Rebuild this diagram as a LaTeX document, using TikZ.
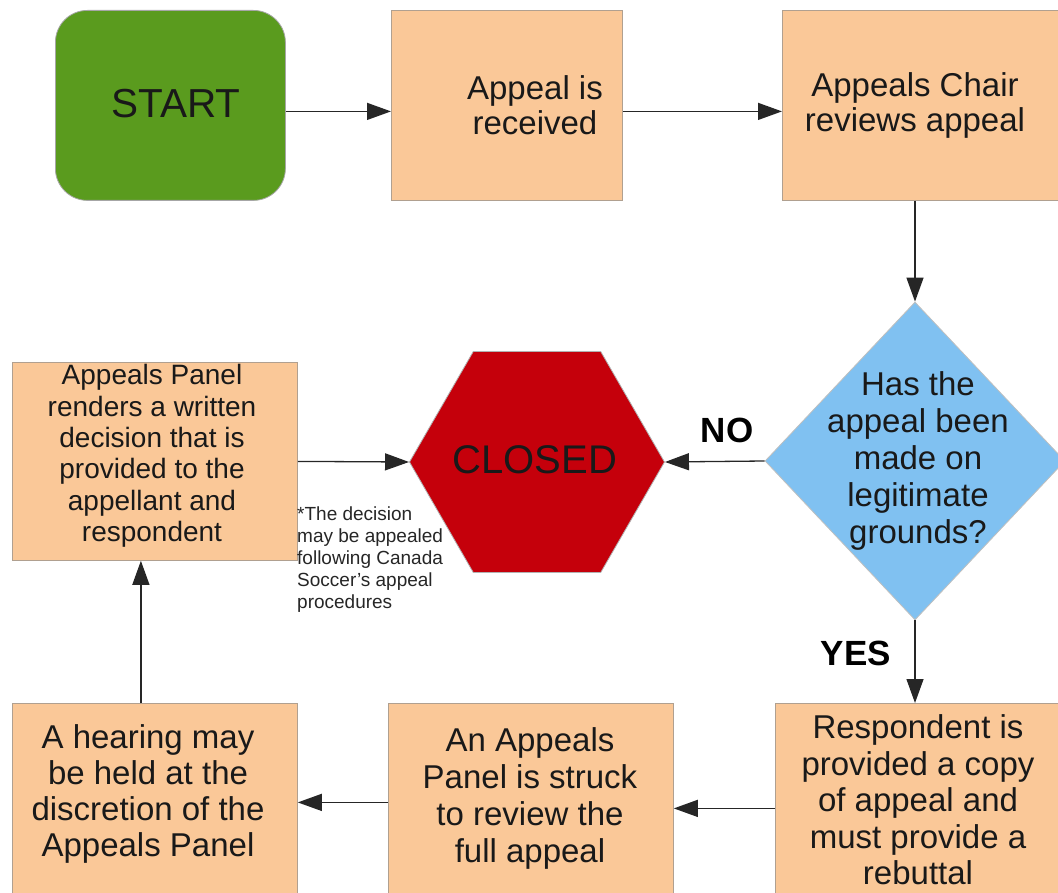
\documentclass[tikz,border=0pt]{standalone}
\usepackage{fontspec}
\setmainfont{Liberation Sans}
\usetikzlibrary{shapes.geometric,arrows.meta}
\definecolor{peach}{HTML}{FAC898}
\definecolor{peachline}{HTML}{B0A090}
\definecolor{startgreen}{HTML}{5A9B1E}
\definecolor{closedred}{HTML}{C5000B}
\definecolor{diablue}{HTML}{80C1F1}
\begin{document}
\begin{tikzpicture}[x=1pt,y=-1pt,
  box/.style={draw=peachline, fill=peach, line width=0.8pt, inner sep=0pt, anchor=north west},
  txt/.style={align=center, inner sep=0pt, text=black!90},
  arr/.style={draw=black!85, line width=1.3pt, -{Triangle[length=24pt,width=17pt]}},
  lbl/.style={font=\fontsize{35}{40}\selectfont\bfseries, inner sep=0pt}]
\useasboundingbox (0,0) rectangle (1058,893);
\clip (0,0) rectangle (1058,893);
% shapes
\node[draw=black!35, fill=startgreen, rounded corners=32pt, line width=0.8pt, inner sep=0pt, anchor=north west, minimum width=230pt, minimum height=190pt] (start) at (55,10) {};
\node[box, minimum width=231pt, minimum height=190pt] (recv) at (391,10) {};
\node[box, minimum width=300pt, minimum height=190pt] (chair) at (782,10) {};
\node[diamond, draw=black!25, fill=diablue, line width=0.8pt, inner sep=0pt, minimum width=300pt, minimum height=318pt] (dia) at (915,461) {};
\node[regular polygon, regular polygon sides=6, draw=black!30, fill=closedred, line width=0.8pt, inner sep=0pt, minimum size=255pt] (hex) at (537,462) {};
\node[box, minimum width=285pt, minimum height=198pt] (panel) at (12,362) {};
\node[box, minimum width=310pt, minimum height=210pt] (resp) at (775,703) {};
\node[box, minimum width=285pt, minimum height=210pt] (struck) at (388,703) {};
\node[box, minimum width=285pt, minimum height=210pt] (hearing) at (12,703) {};
% texts
\node[txt, font=\fontsize{40.5}{44}\selectfont] (tstart) at (176,104) {START};
\node[txt, font=\fontsize{33}{35}\selectfont] (trecv) at (535,105) {Appeal is\\received};
\node[txt, font=\fontsize{33}{35}\selectfont] (tchair) at (915,105) {Appeals Chair\\reviews appeal};
\node[txt, font=\fontsize{33}{37}\selectfont] (tdia) at (918,461) {Has the\\appeal been\\made on\\legitimate\\grounds?};
\node[txt, font=\fontsize{40}{44}\selectfont] (thex) at (535,460) {CLOSED};
\node[txt, font=\fontsize{28}{31.4}\selectfont] (tpanel) at (152,456) {Appeals Panel\\renders a written\\decision that is\\provided to the\\appellant and\\respondent};
\node[txt, font=\fontsize{33}{36.5}\selectfont] (tresp) at (918,800) {Respondent is\\provided a copy\\of appeal and\\must provide a\\rebuttal};
\node[txt, font=\fontsize{33}{37}\selectfont] (tstruck) at (530,798) {An Appeals\\Panel is struck\\to review the\\full appeal};
\node[txt, font=\fontsize{33}{36}\selectfont] (thear) at (148,794) {A hearing may\\be held at the\\discretion of the\\Appeals Panel};
\node[align=left, inner sep=0pt, anchor=north west, font=\fontsize{19}{22}\selectfont, text=black!85] (note) at (297,507) {*The decision\\may be appealed\\following Canada\\Soccer's appeal\\procedures};
\node[lbl] (no) at (727,430) {NO};
\node[lbl] (yes) at (856,653) {YES};
% connectors
\draw[arr] ([yshift=-6pt]start.east) -- ([yshift=-6pt]recv.west);
\draw[arr] ([yshift=-6pt]recv.east) -- ([yshift=-6pt]chair.west);
\draw[arr] (dia.north |- chair.south) -- (dia.north);
\draw[arr] (dia.west) -- (hex.east);
\draw[arr] (panel.east) -- (hex.west);
\draw[arr] (dia.south) -- (dia.south |- resp.north);
\draw[arr] (resp.west) -- (struck.east);
\draw[arr] ([yshift=6pt]struck.west) -- ([yshift=6pt]hearing.east);
\draw[arr] ([xshift=-14pt]hearing.north) -- ([xshift=-14pt]panel.south);
\end{tikzpicture}
\end{document}
